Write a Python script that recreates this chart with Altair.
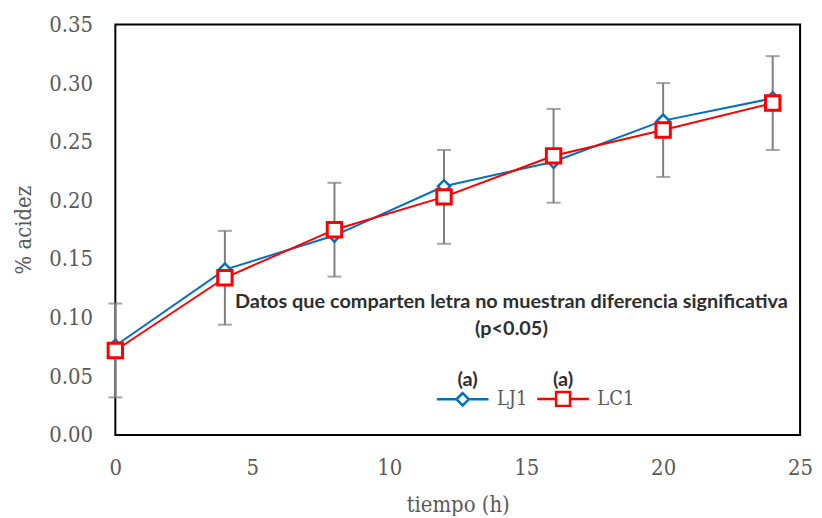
import altair as alt
import pandas as pd

# ---- data ----
tiempo = [0, 4, 8, 12, 16, 20, 24]
lj1 = [0.076, 0.141, 0.170, 0.212, 0.233, 0.268, 0.287]
lc1 = [0.072, 0.134, 0.175, 0.203, 0.238, 0.260, 0.283]
err_lc1 = [0.040, 0.040, 0.040, 0.040, 0.040, 0.040, 0.040]
series = ["LJ1", "LC1"]
colors = ["#0070C0", "#FF0000"]
x_ticks = [0, 5, 10, 15, 20, 25]
y_ticks = [0.00, 0.05, 0.10, 0.15, 0.20, 0.25, 0.30, 0.35]
nota = ["Datos que comparten letra no muestran diferencia significativa", "(p<0.05)"]
letras = ["(a)", "(a)"]

df = pd.DataFrame({
    "tiempo": tiempo * 2,
    "acidez": lj1 + lc1,
    "serie": ["LJ1"] * len(tiempo) + ["LC1"] * len(tiempo),
})
err = pd.DataFrame({
    "tiempo": tiempo,
    "lo": [v - e for v, e in zip(lc1, err_lc1)],
    "hi": [v + e for v, e in zip(lc1, err_lc1)],
})

SERIF = "DejaVu Serif Condensed, DejaVu Serif, serif"
GRAY = "#595959"

xs = alt.Scale(domain=[0, 25], nice=False)
ys = alt.Scale(domain=[0, 0.35], nice=False)
cs = alt.Scale(domain=series, range=colors)

X = alt.X("tiempo:Q", scale=xs, axis=alt.Axis(values=x_ticks, title="tiempo (h)", labelFlush=False,
                                              titleFont=SERIF, titleFontWeight="normal"))
Y = alt.Y("acidez:Q", scale=ys, axis=alt.Axis(values=y_ticks, format=".2f", title="% acidez",
                                              titleFont=SERIF, titleFontWeight="normal"))

base = alt.Chart(df)

err_rule = alt.Chart(err).mark_rule(color="#7F7F7F", strokeWidth=2).encode(
    x=alt.X("tiempo:Q", scale=xs),
    y=alt.Y("lo:Q", scale=ys),
    y2="hi:Q",
)
err_caps = alt.Chart(err).transform_fold(["lo", "hi"], as_=["k", "v"]).mark_tick(
    color="#7F7F7F", thickness=2, size=14, orient="horizontal"
).encode(
    x=alt.X("tiempo:Q", scale=xs),
    y=alt.Y("v:Q", scale=ys),
)

line_lj1 = base.transform_filter(alt.datum.serie == "LJ1").mark_line(
    strokeWidth=2, color=colors[0]).encode(x=X, y=Y)
line_lc1 = base.transform_filter(alt.datum.serie == "LC1").mark_line(
    strokeWidth=2, color=colors[1]).encode(x=X, y=Y)

pts_lj1 = base.transform_filter(alt.datum.serie == "LJ1").mark_point(
    shape="diamond", size=150, filled=True, fill="white", stroke=colors[0], strokeWidth=2.5, opacity=1
).encode(x=X, y=Y)
pts_lc1 = base.transform_filter(alt.datum.serie == "LC1").mark_point(
    shape="square", size=210, filled=True, fill="white", stroke=colors[1], strokeWidth=3, opacity=1
).encode(x=X, y=Y)

path_d = "M-1,0H-0.24M0.24,0H1M0,-0.24L0.24,0L0,0.24L-0.24,0Z"
path_s = "M-1,0H-0.27M0.27,0H1M-0.27,-0.27H0.27V0.27H-0.27Z"
leg = alt.Legend(
    title=None, orient="none", legendX=322, legendY=349, direction="horizontal",
    symbolSize=2704, symbolStrokeWidth=2.5, symbolOpacity=1, labelFont=SERIF, labelFontSize=20,
    labelColor=GRAY, labelOffset=7, columnPadding=4, padding=0,
)
legend_layer = base.transform_filter("false").mark_point(filled=False, strokeWidth=2, opacity=1).encode(
    x=X, y=Y,
    color=alt.Color("serie:N", scale=cs, legend=leg),
    shape=alt.Shape("serie:N", scale=alt.Scale(domain=series, range=[path_d, path_s]), legend=leg),
)

TXT = dict(font="Lato", fontWeight="bold", fontSize=20, color="#2E2E2E", align="center", baseline="middle")
nota_txt = alt.Chart().mark_text(lineBreak="\n", lineHeight=27, **TXT).encode(
    x=alt.datum(14.46, scale=xs), y=alt.datum(0.113, scale=ys), text=alt.value("\n".join(nota)))
letra1 = alt.Chart().mark_text(**TXT).encode(
    x=alt.datum(12.86, scale=xs), y=alt.datum(0.047, scale=ys), text=alt.value(letras[0]))
letra2 = alt.Chart().mark_text(**TXT).encode(
    x=alt.datum(16.35, scale=xs), y=alt.datum(0.047, scale=ys), text=alt.value(letras[1]))

chart = alt.layer(
    err_rule, err_caps, line_lj1, line_lc1, pts_lj1, pts_lc1, legend_layer, nota_txt, letra1, letra2
).properties(
    width=689, height=413,
    autosize=alt.AutoSizeParams(type="none"),
    padding={"left": 108, "top": 15, "right": 14, "bottom": 80},
).configure_view(
    stroke="black", strokeWidth=2
).configure_axis(
    grid=False, ticks=False, domain=False,
    labelFont=SERIF, labelFontSize=22, labelColor=GRAY,
    titleFont=SERIF, titleFontSize=22, titleColor=GRAY, titleFontWeight="normal",
).configure_axisX(
    labelPadding=23, titlePadding=16
).configure_axisY(
    labelPadding=23, titlePadding=13
)

chart.save("out.html", embed_options={"renderer": "svg", "actions": False})
